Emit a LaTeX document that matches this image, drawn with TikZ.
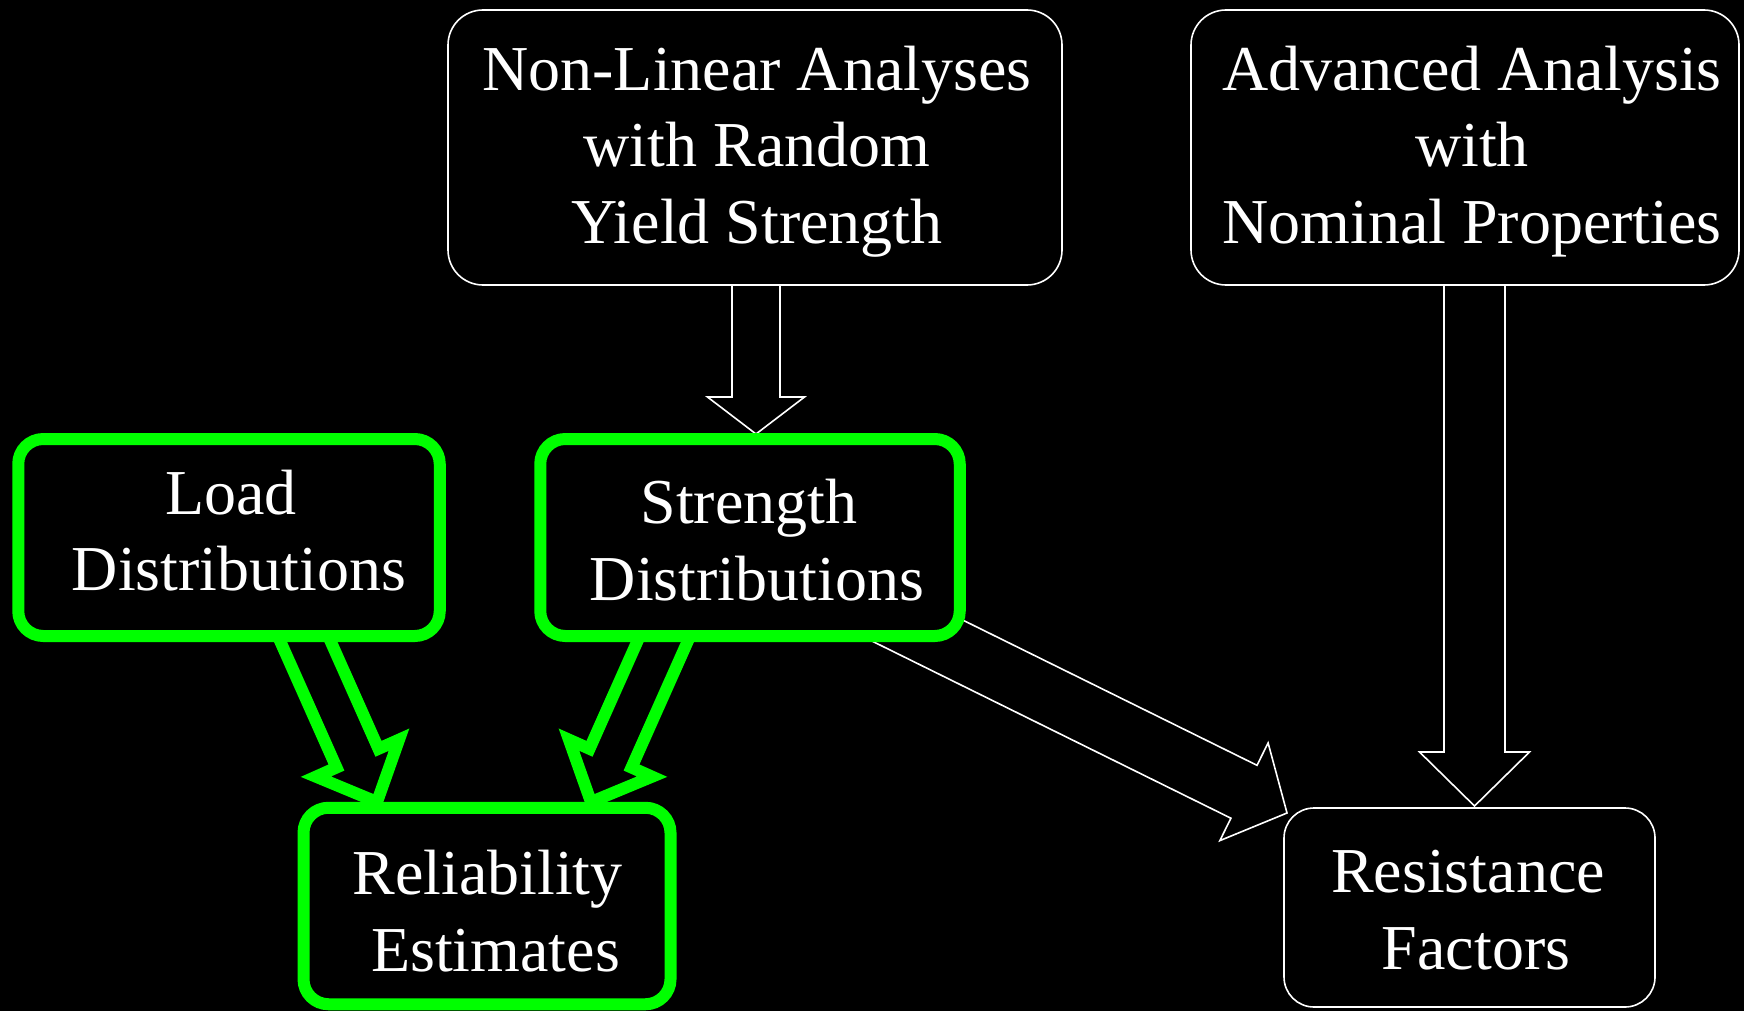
\documentclass[tikz,border=0pt]{standalone}
\usepackage{fontspec}
\setmainfont{Liberation Serif}
\usetikzlibrary{calc}
\definecolor{gr}{RGB}{0,255,0}
\pgfdeclarelayer{bg}
\pgfdeclarelayer{arr}
\pgfsetlayers{bg,arr,main}
\newcommand\firstline{\rule{0pt}{50pt}}
\newcommand\lastline{\rule[-50pt]{0pt}{50pt}}
% #1 style, #2 name, #3 start, #4 tip, #5 shaft half width, #6 head half width, #7 head length
\newcommand\blockarrow[7]{%
  \coordinate (#2-s) at (#3);
  \coordinate (#2-t) at (#4);
  \coordinate (#2-b) at ($(#2-t)!#7!(#2-s)$);
  \draw[#1] ($(#2-s)!#5!90:(#2-t)$) -- ($(#2-b)!#5!90:(#2-t)$) -- ($(#2-b)!#6!90:(#2-t)$)
    -- (#2-t) -- ($(#2-b)!#6!-90:(#2-t)$) -- ($(#2-b)!#5!-90:(#2-t)$) -- ($(#2-s)!#5!-90:(#2-t)$) -- cycle;
}
\begin{document}
\begin{tikzpicture}[x=1pt,y=-1pt,
  wbox/.style={draw=white, line width=1.6pt, fill=black, rounded corners=35pt, inner sep=0pt, outer sep=0pt},
  gbox/.style={draw=gr, line width=12pt, fill=black, rounded corners=25pt, inner sep=0pt, outer sep=0pt},
  txt/.style={text=white, align=center, inner sep=0pt, font=\fontsize{64}{76.5}\selectfont},
  warrow/.style={draw=white, line width=1.6pt, fill=black, line join=miter},
  garrow/.style={draw=gr, line width=12pt, fill=black, line join=miter}]
\begin{pgfonlayer}{bg}
\fill[black] (0,0) rectangle (1744,1011);
\end{pgfonlayer}
\useasboundingbox (0,0) rectangle (1744,1011);

% boxes
\node[wbox, minimum width=614pt, minimum height=275pt] (nl) at (755,147.5) {};
\node[wbox, minimum width=548pt, minimum height=275pt] (ad) at (1465,147.5) {};
\node[gbox, minimum width=421.5pt, minimum height=197pt] (ld) at (229,537.5) {};
\node[gbox, minimum width=419.5pt, minimum height=197pt] (st) at (750,537.5) {};
\node[gbox, minimum width=367pt, minimum height=196.5pt] (rl) at (487,906) {};
\node[wbox, rounded corners=30pt, minimum width=371pt, minimum height=199pt] (rf) at (1469.5,907.5) {};

% texts
\node[txt] (nlT) at ($(nl.center)+(2,19)$) {\firstline Non-Linear Analyses\\with Random\\Yield Strength\lastline};
\node[txt] (adT) at ($(ad.center)+(7,19)$) {\firstline Advanced Analysis\\with\\Nominal Properties\lastline};
\node[txt] (ldT) at ($(ld.center)+(10,15)$) {\firstline Load\hspace*{16pt}\\Distributions\lastline};
\node[txt] (stT) at ($(st.center)+(7,24.5)$) {\firstline Strength\hspace*{16pt}\\Distributions\lastline};
\node[txt] (rlT) at ($(rl.center)+(8.5,27)$) {\firstline Reliability\hspace*{16pt}\\Estimates\lastline};
\node[txt] (rfT) at ($(rf.center)+(6.5,23.5)$) {\firstline Resistance\hspace*{16pt}\\Factors\lastline};

% block arrows
\begin{pgfonlayer}{arr}
\blockarrow{warrow}{aA}{$(nl.south)+(1,0)$}{$(st.north)+(6,-5)$}{24pt}{48.5pt}{37pt}
\blockarrow{warrow}{aB}{$(ad.south)+(9.5,0)$}{$(rf.north)+(5,-2)$}{30.5pt}{55pt}{54pt}
\blockarrow{warrow}{aC}{$(st.center)+(71,45.5)$}{$(rf.north west)+(3,5)$}{29.5pt}{54.5pt}{48pt}
\blockarrow{garrow}{aG1}{$(ld.center)+(26,-9.5)$}{$(rl.north)+(-110,-5.75)$}{23pt}{45.5pt}{48pt}
\blockarrow{garrow}{aG2}{$(st.center)+(-37,-9.5)$}{$(rl.north)+(104,-5.75)$}{23pt}{45.5pt}{48pt}
\end{pgfonlayer}
\end{tikzpicture}
\end{document}
